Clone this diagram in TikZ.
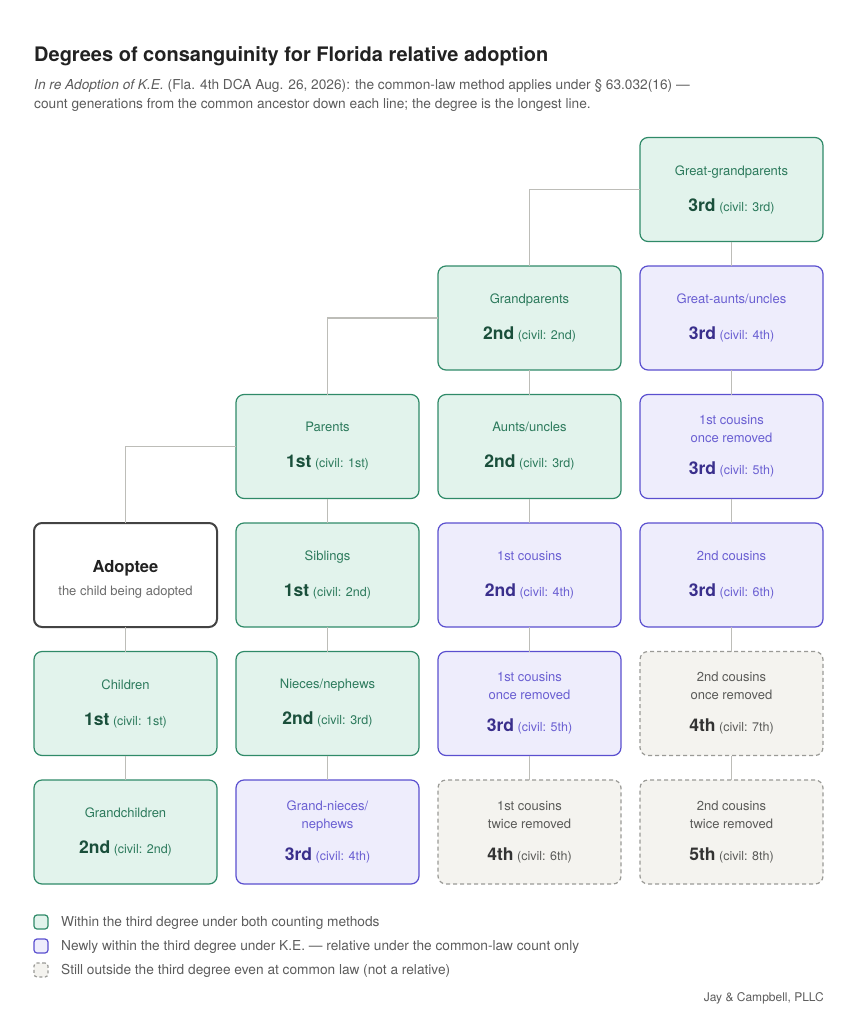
\documentclass[tikz,border=0pt]{standalone}
\usepackage{fontspec}
\setmainfont{TeX Gyre Heros}
\usetikzlibrary{positioning}

\definecolor{kinfill}{HTML}{E2F3EC}
\definecolor{kinedge}{HTML}{2F8A68}
\definecolor{kintext}{HTML}{2C7A5C}
\definecolor{kindeg}{HTML}{1A4F3B}
\definecolor{newfill}{HTML}{EEEDFC}
\definecolor{newedge}{HTML}{5A4FCF}
\definecolor{newtext}{HTML}{6A5FD2}
\definecolor{newdeg}{HTML}{3A2F8C}
\definecolor{outfill}{HTML}{F4F3EF}
\definecolor{outedge}{HTML}{9A9A96}
\definecolor{outtext}{HTML}{5A5A58}
\definecolor{outdeg}{HTML}{333333}
\definecolor{wire}{HTML}{BDBDB8}
\definecolor{ink}{HTML}{222222}
\definecolor{muted}{HTML}{5C5C5C}

\newcommand{\degline}[2]{{\fontsize{17.5}{18}\selectfont\bfseries\color{degcol}#1} {\fontsize{12.5}{18}\selectfont(civil: #2)}}

\begin{document}
\begin{tikzpicture}[
		x=1pt, y=-1pt,
		box/.style={rectangle, rounded corners=8pt, minimum width=183pt, minimum height=104pt,
			inner sep=0pt, outer sep=0pt, align=center, line width=1.2pt,
			font=\fontsize{13}{18}\selectfont},
		kin/.style={box, draw=kinedge, fill=kinfill, text=kintext,
			execute at begin node=\colorlet{degcol}{kindeg}},
		newkin/.style={box, draw=newedge, fill=newfill, text=newtext,
			execute at begin node=\colorlet{degcol}{newdeg}},
		outkin/.style={box, draw=outedge, fill=outfill, text=outtext, dashed, dash pattern=on 4pt off 3pt,
			execute at begin node=\colorlet{degcol}{outdeg}},
		adoptee/.style={box, draw=ink!85, fill=white, text=ink, line width=2pt},
		wire/.style={draw=wire, line width=1.2pt},
		key/.style={rectangle, rounded corners=3pt, minimum size=14pt, inner sep=0pt, line width=1.2pt},
		keytext/.style={anchor=base west, inner sep=0pt, text=muted, font=\fontsize{13.7}{15}\selectfont},
		]
		\useasboundingbox (0,0) rectangle (858,1023);
		
		% heading
		\node[anchor=base west, inner sep=0pt, text=ink, font=\fontsize{20}{22}\selectfont\bfseries] (title) at (34,61)
			{Degrees of consanguinity for Florida relative adoption};
		\node[anchor=north west, align=left, text=muted, inner sep=0pt, font=\fontsize{13.7}{19}\selectfont] (sub) at (34,79)
			{\textit{In re Adoption of K.E.} (Fla. 4th DCA Aug. 26, 2026): the common-law method applies under § 63.032(16) —\\
			count generations from the common ancestor down each line; the degree is the longest line.};
		
		% row of the adoptee
		\node[adoptee] (adoptee) at (125.5,575)
			{\rule{0pt}{20pt}{\fontsize{16.5}{18}\selectfont\bfseries Adoptee}\\[5pt]{\fontsize{13}{15}\selectfont\color{muted!90}the child being adopted}};
		\node[kin, right=19pt of adoptee] (siblings) {Siblings\\[18pt]\degline{1st}{2nd}};
		\node[newkin, right=19pt of siblings] (cousins) {1st cousins\\[18pt]\degline{2nd}{4th}};
		\node[newkin, right=19pt of cousins] (cousinsB) {2nd cousins\\[18pt]\degline{3rd}{6th}};
		
		% ancestors and their lines
		\node[kin, above=24.5pt of siblings] (parents) {Parents\\[18pt]\degline{1st}{1st}};
		\node[kin, right=19pt of parents] (aunts) {Aunts/uncles\\[18pt]\degline{2nd}{3rd}};
		\node[newkin, right=19pt of aunts] (cousinsAup) {1st cousins\\once removed\\[14pt]\degline{3rd}{5th}};
		\node[kin, above=24.5pt of aunts] (grand) {Grandparents\\[18pt]\degline{2nd}{2nd}};
		\node[newkin, right=19pt of grand] (greataunts) {Great-aunts/uncles\\[18pt]\degline{3rd}{4th}};
		\node[kin, above=24.5pt of greataunts] (greatgrand) {Great-grandparents\\[18pt]\degline{3rd}{3rd}};
		
		% descendants
		\node[kin, below=24.5pt of adoptee] (children) {Children\\[18pt]\degline{1st}{1st}};
		\node[kin, below=24.5pt of children] (grandchildren) {Grandchildren\\[18pt]\degline{2nd}{2nd}};
		\node[kin, below=24.5pt of siblings] (nieces) {Nieces/nephews\\[18pt]\degline{2nd}{3rd}};
		\node[newkin, below=24.5pt of nieces] (grandnieces) {Grand-nieces/\\nephews\\[14pt]\degline{3rd}{4th}};
		\node[newkin, below=24.5pt of cousins] (cousinsAdown) {1st cousins\\once removed\\[14pt]\degline{3rd}{5th}};
		\node[outkin, below=24.5pt of cousinsAdown] (cousinsAtwice) {1st cousins\\twice removed\\[14pt]\degline{4th}{6th}};
		\node[outkin, below=24.5pt of cousinsB] (cousinsBonce) {2nd cousins\\once removed\\[14pt]\degline{4th}{7th}};
		\node[outkin, below=24.5pt of cousinsBonce] (cousinsBtwice) {2nd cousins\\twice removed\\[14pt]\degline{5th}{8th}};
		
		% connectors
		\draw[wire] (greatgrand.west) -| (grand.north);
		\draw[wire] (grand.west) -| (parents.north);
		\draw[wire] (parents.west) -| (adoptee.north);
		\draw[wire] (greatgrand) -- (greataunts);
		\draw[wire] (greataunts) -- (cousinsAup);
		\draw[wire] (cousinsAup) -- (cousinsB);
		\draw[wire] (grand) -- (aunts);
		\draw[wire] (aunts) -- (cousins);
		\draw[wire] (parents) -- (siblings);
		\draw[wire] (adoptee) -- (children);
		\draw[wire] (children) -- (grandchildren);
		\draw[wire] (siblings) -- (nieces);
		\draw[wire] (nieces) -- (grandnieces);
		\draw[wire] (cousins) -- (cousinsAdown);
		\draw[wire] (cousinsAdown) -- (cousinsAtwice);
		\draw[wire] (cousinsB) -- (cousinsBonce);
		\draw[wire] (cousinsBonce) -- (cousinsBtwice);
		
		% legend
		\node[key, draw=kinedge, fill=kinfill] (keykin) at (41,922) {};
		\node[keytext] (keykintext) at (61,926.5) {Within the third degree under both counting methods};
		\node[key, draw=newedge, fill=newfill] (keynew) at (41,946) {};
		\node[keytext] (keynewtext) at (61,950.5) {Newly within the third degree under K.E. — relative under the common-law count only};
		\node[key, draw=outedge, fill=outfill, dashed, dash pattern=on 3pt off 2.5pt] (keyout) at (41,970) {};
		\node[keytext] (keyouttext) at (61,974.5) {Still outside the third degree even at common law (not a relative)};
		
		\node[anchor=base east, inner sep=0pt, text=muted, font=\fontsize{12}{14}\selectfont] (firm) at (824,1001) {Jay \& Campbell, PLLC};
	\end{tikzpicture}
\end{document}
